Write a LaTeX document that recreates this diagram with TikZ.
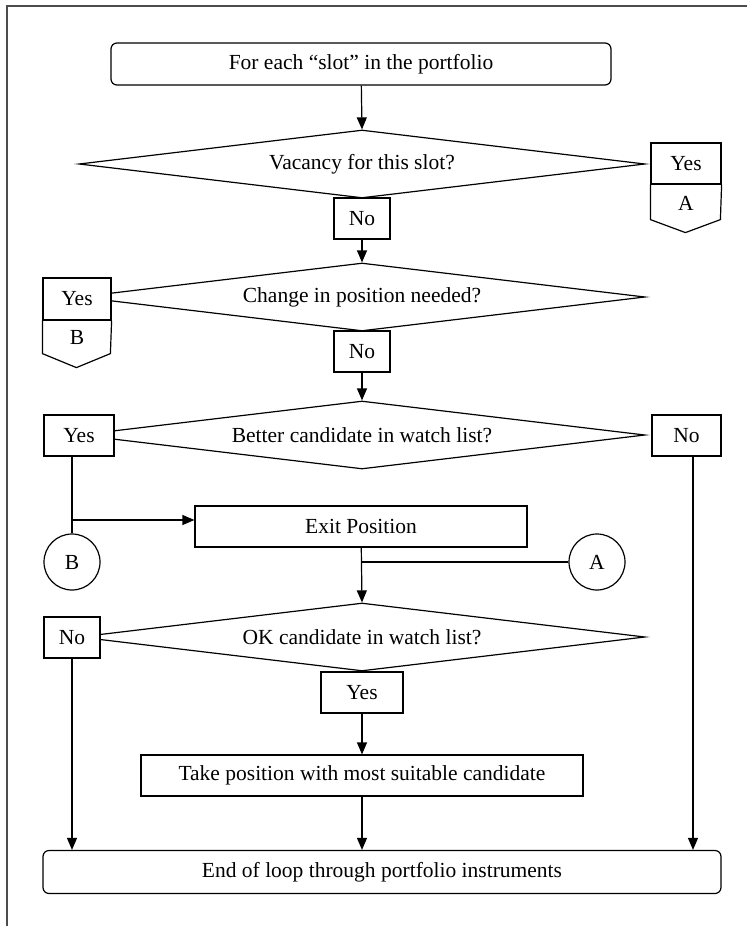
\documentclass[tikz,border=0pt]{standalone}
\usepackage{fontspec}
\setmainfont{Liberation Serif}
\usetikzlibrary{shapes.geometric,arrows.meta}

\tikzset{
  base/.style={draw=black, line width=1.2pt, fill=white, inner sep=0pt,
               font=\fontsize{21.5}{25}\selectfont},
  box/.style={base, rectangle, minimum height=41pt},
  term/.style={base, rectangle, rounded corners=6pt, minimum height=42pt},
  dia/.style={base, diamond, shape aspect=8.3, minimum width=566pt, minimum height=68pt},
  conn/.style={base, circle, minimum size=56pt},
  label/.style={inner sep=0pt, font=\fontsize{21.5}{25}\selectfont},
  line/.style={draw=black, line width=1.2pt, line join=miter},
  arr/.style={line, -{Triangle[length=12pt,width=10pt]}},
  frame/.style={draw=black!70, line width=1.6pt}
}

\begin{document}
\begin{tikzpicture}[x=1pt, y=-1pt]
\useasboundingbox (0,0) rectangle (747,926);

% open frame: top and left edges only
\coordinate (fTL) at (7,6);
\coordinate (fTR) at (747,6);
\coordinate (fBL) at (7,926);
\draw[frame] (fTR) -- (fTL) -- (fBL);

% decisions (drawn first so the answer boxes cover their tips)
\node[dia] (d1) at (362,164) {Vacancy for this slot?};
\node[dia] (d2) at (362,297) {Change in position needed?};
\node[dia] (d3) at (362,435) {Better candidate in watch list?};
\node[dia] (d4) at (362,637) {OK candidate in watch list?};

% start and end of the loop
\node[term, minimum width=500pt] (start) at (361,64) {For each “slot” in the portfolio};
\node[term, minimum width=678pt, minimum height=43pt] (end) at (382,872) {End of loop through portfolio instruments};

% answers
\node[box, minimum width=56pt] (no1) at (362,218.5) {No};
\node[box, minimum width=56pt] (no2) at (362,351.5) {No};
\node[box, minimum width=70pt] (yes3) at (79,435.5) {Yes};
\node[box, minimum width=69pt] (no3) at (686.5,435.5) {No};
\node[box, minimum width=56pt] (no4) at (72,637.5) {No};
\node[box, minimum width=82pt] (yes4) at (362,692.5) {Yes};

% off-page style connectors: Yes / A and Yes / B
\node[box, minimum width=70pt] (yesA) at (686,163.5) {Yes};
\draw[line] (yesA.south west) -- ++(0,35) -- ++(35,13) -- ++(35,-13) -- (yesA.south east);
\node[label] (labA) at (686,203) {A};

\node[box, minimum width=68pt, minimum height=42pt] (yesB) at (77,299) {Yes};
\draw[line] (yesB.south west) -- ++(0,33) -- ++(34,14) -- ++(34,-14) -- (yesB.south east);
\node[label] (labB) at (77,337) {B};

% actions
\node[box, minimum width=332pt] (exit) at (361,526.5) {Exit Position};
\node[box, minimum width=442pt] (take) at (362,775.5) {Take position with most suitable candidate};

% on-page connectors
\node[conn] (circB) at (72,562) {B};
\node[conn] (circA) at (597,562) {A};

% flow
\draw[arr] (start) -- (d1.north);
\draw[arr] (no1) -- (d2.north);
\draw[arr] (no2) -- (d3.north);

\coordinate (br) at (72,520);
\draw[line] (yes3.south -| circB) -- (circB.north);
\draw[arr] (br) -- (br -| exit.west);

\draw[line] (circA.west) -- (circA.west -| exit.south);
\draw[arr] (exit) -- (d4.north);

\draw[arr] (yes4) -- (take);
\draw[arr] (take.south) -- (take.south |- end.north);
\draw[arr] (no4) -- (no4.south |- end.north);

\coordinate (no3drop) at (693,456);
\draw[arr] (no3drop) -- (no3drop |- end.north);
\end{tikzpicture}
\end{document}
